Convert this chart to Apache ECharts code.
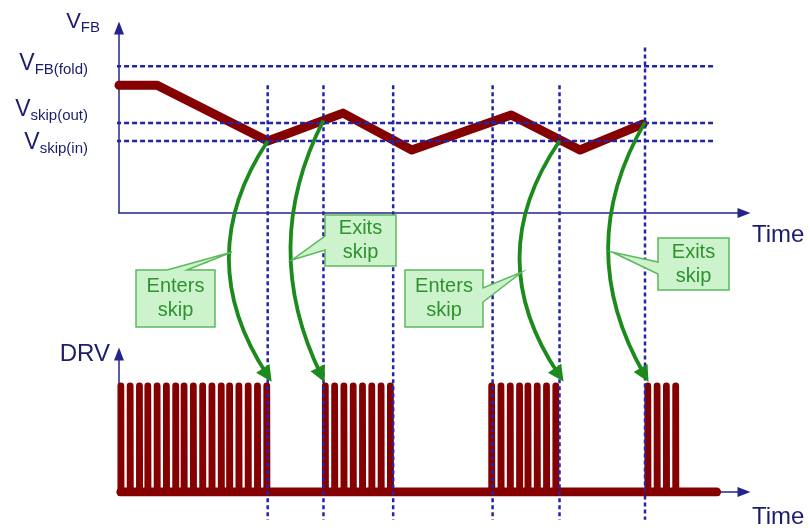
<!DOCTYPE html>
<html>
<head>
<meta charset="utf-8">
<script src="https://cdn.jsdelivr.net/npm/echarts@6/dist/echarts.min.js"></script>
<style>
    html, body { margin: 0; padding: 0; background: #fff; }
    #chart { width: 810px; height: 532px; }
</style>
</head>
<body>
<div id="chart"></div>
<script>
// time unit = one switching period
var vfbTime = [0, 4.1, 16.0, 24.1, 31.5, 42.2, 49.6, 56.4];
var vfbValue = [7.1, 7.1, 4.0, 5.55, 3.5, 5.45, 3.5, 4.95];

// thresholds
var thresholdNames = ['FB(fold)', 'skip(out)', 'skip(in)'];
var thresholdValues = [8.15, 5.0, 4.0];

// skip enter / exit instants
var edgeTime = [16.0, 22.0, 29.5, 40.2, 47.4, 56.6];
var edgeVfb = [4.0, 5.15, 4.0, 5.3, 4.0, 5.05];

// DRV pulses
var burst1 = [0.2, 1.2, 2.2, 3.1, 4.1, 5.1, 6.1, 7.0, 8.0, 9.0, 10.0, 11.0, 11.9, 12.9, 13.9, 14.9, 15.9];
var burst2 = [22.2, 23.2, 24.2, 25.2, 26.2, 27.2, 28.2, 29.2];
var burst3 = [40.1, 41.1, 42.1, 43.1, 44.0, 45.0, 46.0, 47.0];
var burst4 = [56.9, 57.9, 58.9, 59.9];
var drvEnd = 64.3;

var RED = '#850000';
var NAVY = '#24248e';
var DASH = '#2424a8';
var TXT = '#1c1c6c';
var GREEN = '#1d8a1d';
var FONT = '"Liberation Sans", Arial, sans-serif';

var myChart = echarts.init(document.getElementById('chart'));

function axisLine() {
    return {
        symbol: ['none', 'triangle'],
        symbolSize: [10, 13],
        lineStyle: { color: NAVY, width: 1.5 }
    };
}

// pulse train
var pulses = [];
[burst1, burst2, burst3, burst4].forEach(function (b) {
    b.forEach(function (t) {
        pulses.push([t, 0], [t, 1], [t + 0.02, 1], [t + 0.02, 0]);
    });
});

var series = [
    {
        type: 'line',
        xAxisIndex: 0,
        yAxisIndex: 0,
        data: vfbTime.map(function (t, i) { return [t, vfbValue[i]]; }),
        showSymbol: false,
        symbol: 'none',
        silent: true,
        z: 2,
        lineStyle: { color: RED, width: 9, cap: 'round', join: 'round' }
    },
    {
        type: 'line',
        xAxisIndex: 1,
        yAxisIndex: 1,
        data: [[burst1[0], 0], [drvEnd, 0]],
        showSymbol: false,
        symbol: 'none',
        silent: true,
        z: 2,
        lineStyle: { color: RED, width: 9, cap: 'round' }
    },
    {
        type: 'line',
        xAxisIndex: 1,
        yAxisIndex: 1,
        data: pulses,
        showSymbol: false,
        symbol: 'none',
        silent: true,
        z: 2,
        lineStyle: { color: RED, width: 6.8, cap: 'round', join: 'round' }
    }
];

// 阈值虚线
thresholdValues.forEach(function (v) {
    series.push({
        type: 'line',
        xAxisIndex: 0,
        yAxisIndex: 0,
        clip: false,
        data: [[-2.04, v], [64.1, v]],
        showSymbol: false,
        symbol: 'none',
        silent: true,
        z: 3,
        lineStyle: { color: DASH, width: 2.5, type: [5, 3] }
    });
});

// 竖直点线
edgeTime.forEach(function (t, i) {
    series.push({
        type: 'line',
        xAxisIndex: 0,
        yAxisIndex: 0,
        clip: false,
        data: [[t, i === edgeTime.length - 1 ? 9.2 : 7.1], [t, -17.05]],
        showSymbol: false,
        symbol: 'none',
        silent: true,
        z: 3,
        lineStyle: { color: DASH, width: 2.5, type: [4, 3] }
    });
});

// 绿色箭头 (enters skip / exits skip)
var arrowIdx = [0, 1, 4, 5];
var arrowCurve = [-0.33, -0.25, -0.34, -0.29];
series.push({
    type: 'lines',
    coordinateSystem: 'cartesian2d',
    xAxisIndex: 0,
    yAxisIndex: 0,
    clip: false,
    silent: true,
    z: 6,
    symbol: ['none', 'triangle'],
    symbolSize: 16,
    lineStyle: { color: GREEN, width: 3.8, opacity: 1 },
    data: arrowIdx.map(function (k, i) {
        return {
            coords: [[edgeTime[k], edgeVfb[k]], [edgeTime[k] + (i === 1 ? -0.25 : -0.05), -9.0]],
            lineStyle: { curveness: arrowCurve[i] }
        };
    })
});

var labelRich = {
    v: { fontSize: 23, fontFamily: FONT, fill: TXT, lineHeight: 26 },
    s: { fontSize: 15, fontFamily: FONT, fill: TXT, lineHeight: 14, verticalAlign: 'bottom' }
};
var labelY = [64, 110, 143];

var graphic = thresholdNames.map(function (n, i) {
    return {
        type: 'text',
        x: 88,
        y: labelY[i],
        z: 10,
        style: {
            text: '{v|V}{s|' + n + '}',
            rich: labelRich,
            align: 'right',
            verticalAlign: 'middle'
        }
    };
});

var callouts = [
    { text: 'Enters\nskip', c: [175.5, 298.5], pts: [[136, 270], [167, 270], [232, 252], [187, 270], [215, 270], [215, 327], [136, 327]] },
    { text: 'Exits\nskip', c: [360.5, 240.5], pts: [[325, 215], [396, 215], [396, 266], [325, 266], [325, 250], [292, 260], [325, 236]] },
    { text: 'Enters\nskip', c: [444, 298.5], pts: [[405, 270], [483, 270], [483, 288], [522, 272], [483, 302], [483, 327], [405, 327]] },
    { text: 'Exits\nskip', c: [693.5, 264], pts: [[658, 238], [729, 238], [729, 290], [658, 290], [658, 274], [612, 252], [658, 262]] }
];
callouts.forEach(function (c) {
    graphic.push({
        type: 'polygon',
        z: 20,
        shape: { points: c.pts },
        style: { fill: '#ccf3cc', stroke: '#5cb85c', lineWidth: 1.5 }
    });
    graphic.push({
        type: 'text',
        z: 21,
        x: c.c[0],
        y: c.c[1],
        style: {
            text: c.text,
            fill: '#2e922e',
            font: '20px ' + FONT,
            lineHeight: 24,
            align: 'center',
            verticalAlign: 'middle'
        }
    });
});

var option = {
    animation: false,
    grid: [
        { left: 119, right: 66, top: 28, bottom: 319 },
        { left: 119, right: 66, top: 354, bottom: 40 }
    ],
    xAxis: [
        {
            gridIndex: 0, type: 'value', min: 0, max: 67.25,
            axisLine: axisLine(), axisTick: { show: false }, axisLabel: { show: false }, splitLine: { show: false },
            name: 'Time', nameLocation: 'end', nameGap: 8,
            nameTextStyle: { color: TXT, fontSize: 24, fontFamily: FONT, align: 'left', verticalAlign: 'top', padding: [10, 0, 0, 0] }
        },
        {
            gridIndex: 1, type: 'value', min: 0, max: 67.25,
            axisLine: axisLine(), axisTick: { show: false }, axisLabel: { show: false }, splitLine: { show: false },
            name: 'Time', nameLocation: 'end', nameGap: 8,
            nameTextStyle: { color: TXT, fontSize: 24, fontFamily: FONT, align: 'left', verticalAlign: 'top', padding: [13, 0, 0, 0] }
        }
    ],
    yAxis: [
        {
            gridIndex: 0, type: 'value', min: 0, max: 10.28,
            axisLine: axisLine(), axisTick: { show: false }, axisLabel: { show: false }, splitLine: { show: false },
            name: '{v|V}{s|FB}', nameLocation: 'end', nameGap: 6,
            nameTextStyle: {
                align: 'right', verticalAlign: 'middle', padding: [0, 19, 0, 0],
                rich: {
                    v: { fontSize: 22, fontFamily: FONT, color: TXT, lineHeight: 26 },
                    s: { fontSize: 15, fontFamily: FONT, color: TXT, lineHeight: 14, verticalAlign: 'bottom' }
                }
            }
        },
        {
            gridIndex: 1, type: 'value', min: 0, max: 1.3,
            axisLine: axisLine(), axisTick: { show: false }, axisLabel: { show: false }, splitLine: { show: false },
            name: 'DRV', nameLocation: 'end', nameGap: 0,
            nameTextStyle: { color: TXT, fontSize: 24, fontFamily: FONT, align: 'right', verticalAlign: 'middle', padding: [0, 9, 0, 0] }
        }
    ],
    graphic: graphic,
    series: series
};

myChart.setOption(option);
</script>
</body>
</html>
